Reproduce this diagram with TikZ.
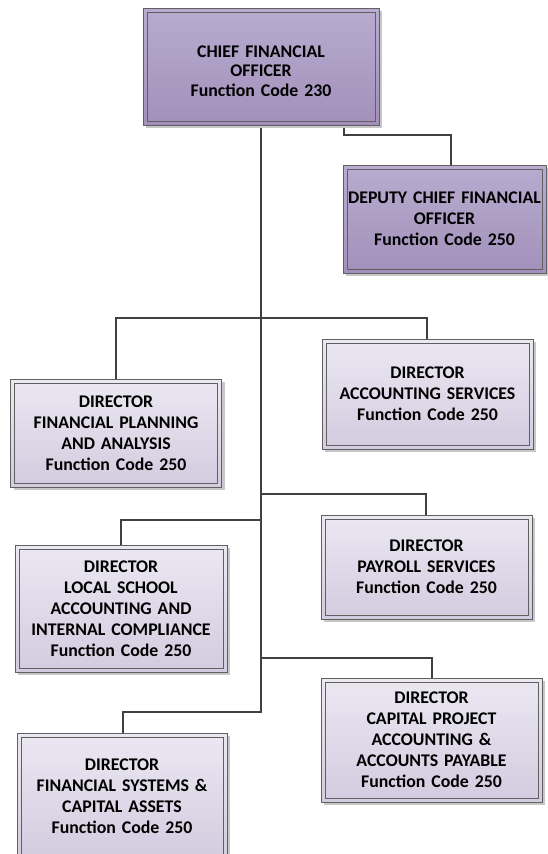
\documentclass[tikz,border=0pt]{standalone}
\usepackage{fontspec}
\setmainfont{Carlito}
\usetikzlibrary{shadows}
\definecolor{linegray}{HTML}{404040}
\definecolor{boxline}{HTML}{606060}
\definecolor{topA}{HTML}{B9ACD0}
\definecolor{botA}{HTML}{A290BA}
\definecolor{topB}{HTML}{EBE8F2}
\definecolor{botB}{HTML}{D3CBDF}
\tikzset{
  orgbox/.style={rectangle, draw=boxline, line width=0.8pt, inner sep=0pt,
    align=center, font=\fontsize{17.8}{21}\selectfont\bfseries,
    drop shadow={shadow xshift=3pt, shadow yshift=-3pt, fill=black!22, opacity=1},
    path picture={\draw[boxline, line width=0.8pt]
      ([shift={(4pt,-4pt)}]path picture bounding box.north west) rectangle
      ([shift={(-4pt,4pt)}]path picture bounding box.south east);}},
  boxA/.style={orgbox, top color=topA, bottom color=botA},
  boxB/.style={orgbox, top color=topB, bottom color=botB},
  conn/.style={draw=linegray, line width=1.4pt}
}
\begin{document}
\begin{tikzpicture}[x=1pt,y=-1pt]
\path[use as bounding box, clip] (0,0) rectangle (548,854);
\fill[white] (0,0) rectangle (548,854);

\coordinate (j1) at (261,318);
\coordinate (j2) at (261,494);
\coordinate (j3) at (261,520);
\coordinate (j4) at (261,658);
\coordinate (j5) at (261,712);

% connectors (drawn first, boxes on top)
\path[conn] (261,125) -- (j1) -| (116,379);
\path[conn] (261,125) -- (j1) -| (427,339);
\path[conn] (261,125) -- (j2) -| (426,515);
\path[conn] (261,125) -- (j3) -| (121,545);
\path[conn] (261,125) -- (j4) -| (432,678);
\path[conn] (261,125) -- (j5) -| (123,733);
\path[conn] (344,125) -- (344,135) -| (451,165);

\node[boxA, minimum width=236pt, minimum height=117pt, text width=226pt,
  font=\fontsize{17.8}{19.5}\selectfont\bfseries] (cfo) at (261,66.5)
  {\rule{0pt}{21pt}CHIEF FINANCIAL\\OFFICER\\Function Code 230};
\node[boxA, minimum width=203pt, minimum height=108pt, text width=200pt] (dep) at (444.5,219)
  {DEPUTY CHIEF FINANCIAL\\OFFICER\\Function Code 250};
\node[boxB, minimum width=211pt, minimum height=108pt, text width=201pt] (fpa) at (116,433)
  {DIRECTOR\\FINANCIAL PLANNING\\AND ANALYSIS\\Function Code 250};
\node[boxB, minimum width=211pt, minimum height=110pt, text width=201pt] (acc) at (427.5,394)
  {DIRECTOR\\ACCOUNTING SERVICES\\Function Code 250};
\node[boxB, minimum width=211pt, minimum height=104pt, text width=201pt] (pay) at (426.5,567)
  {DIRECTOR\\PAYROLL SERVICES\\Function Code 250};
\node[boxB, minimum width=212pt, minimum height=127pt, text width=202pt] (lsa) at (121,608.5)
  {DIRECTOR\\LOCAL SCHOOL\\ACCOUNTING AND\\INTERNAL COMPLIANCE\\Function Code 250};
\node[boxB, minimum width=221pt, minimum height=124pt, text width=211pt] (cap) at (431.5,740)
  {DIRECTOR\\CAPITAL PROJECT\\ACCOUNTING \&\\ACCOUNTS PAYABLE\\Function Code 250};
\node[boxB, minimum width=210pt, minimum height=127pt, text width=200pt] (fsc) at (122,796.5)
  {DIRECTOR\\FINANCIAL SYSTEMS \&\\CAPITAL ASSETS\\Function Code 250};
\end{tikzpicture}
\end{document}
